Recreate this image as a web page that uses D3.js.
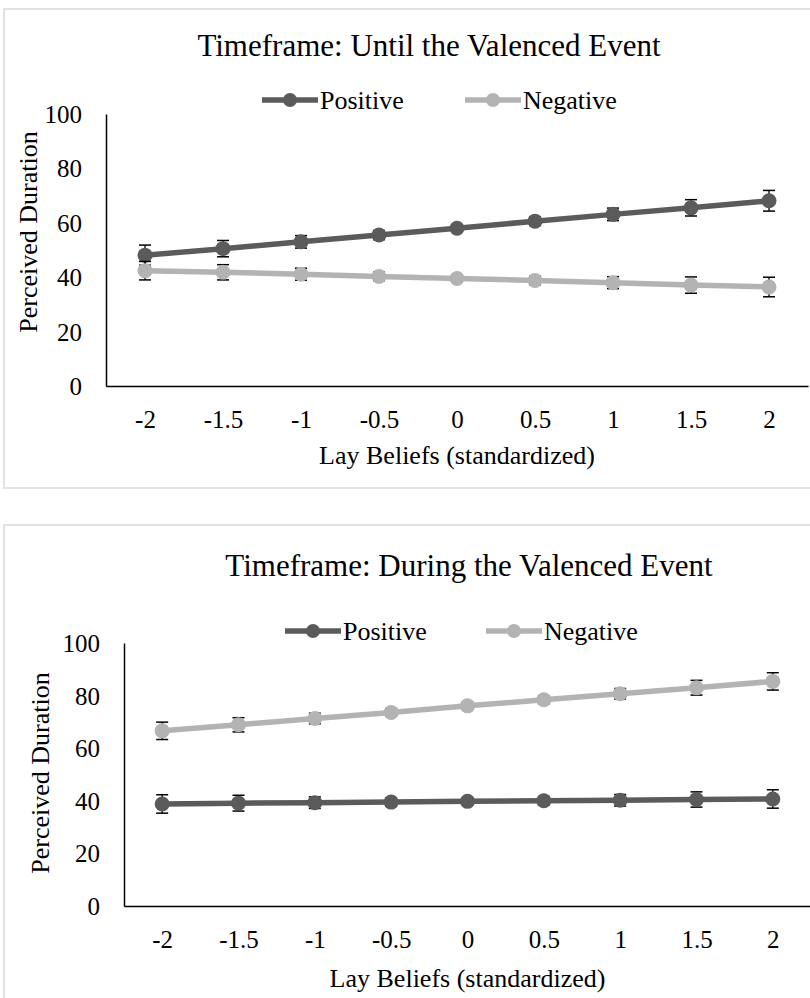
<!DOCTYPE html>
<html>
<head>
<meta charset="utf-8">
<script src="https://cdn.jsdelivr.net/npm/d3@7"></script>
<style>
  html, body { margin: 0; padding: 0; background: #fff; }
  svg { display: block; font-family: "Liberation Serif", "Times New Roman", serif; }
</style>
</head>
<body>
<div id="chart"></div>
<script>
// ── Data ──
const beliefs = ['-2', '-1.5', '-1', '-0.5', '0', '0.5', '1', '1.5', '2'];
const yTicks = [0, 20, 40, 60, 80, 100];
const seriesNames = ['Positive', 'Negative'];

const untilPositive = [48.1, 50.5, 53.0, 55.5, 58.0, 60.6, 63.1, 65.5, 68.1];
const untilPositiveErr = [3.7, 3.0, 2.3, 1.7, 1.3, 1.6, 2.3, 3.0, 3.8];
const untilNegative = [42.4, 41.8, 41.1, 40.3, 39.5, 38.8, 38.0, 37.1, 36.4];
const untilNegativeErr = [3.4, 2.8, 2.2, 1.6, 1.3, 1.6, 2.2, 3.0, 3.6];

const duringPositive = [38.8, 39.1, 39.3, 39.5, 39.8, 40.0, 40.2, 40.5, 40.7];
const duringPositiveErr = [3.5, 3.0, 2.2, 1.6, 1.3, 1.6, 2.2, 2.9, 3.5];
const duringNegative = [66.6, 68.9, 71.3, 73.6, 76.1, 78.4, 80.7, 83.0, 85.4];
const duringNegativeErr = [3.3, 2.7, 2.0, 1.5, 1.3, 1.5, 2.0, 2.8, 3.3];

// ── Style ──
const FONT = '"Liberation Serif", "Times New Roman", serif';
const colors = { Positive: '#5b5b5b', Negative: '#b3b3b3' };
const W = 810, H = 998;

const svg = d3.select('#chart').append('svg')
  .attr('width', W).attr('height', H);

function drawPanel(p) {
  const g = svg.append('g');

  // chart area border
  g.append('rect')
    .attr('x', p.box[0]).attr('y', p.box[1])
    .attr('width', p.box[2]).attr('height', p.box[3])
    .attr('fill', '#fff').attr('stroke', '#d9d9d9').attr('stroke-width', 1.5);

  const x = d3.scalePoint().domain(beliefs).range([p.left, p.right]).padding(0.5);
  const y = d3.scaleLinear().domain([0, 100]).range([p.bottom, p.top]);

  // title
  g.append('text').attr('x', p.titleX).attr('y', p.titleY)
    .attr('text-anchor', 'middle').attr('font-size', 31).attr('fill', '#000')
    .text(p.title);

  // legend
  seriesNames.forEach(function(name, i) {
    const lx = p.legendX[i];
    g.append('line').attr('x1', lx).attr('x2', lx + 56)
      .attr('y1', p.legendY).attr('y2', p.legendY)
      .attr('stroke', colors[name]).attr('stroke-width', 5.5);
    g.append('circle').attr('cx', lx + 28).attr('cy', p.legendY).attr('r', 7)
      .attr('fill', colors[name]);
    g.append('text').attr('x', lx + 58).attr('y', p.legendY + 9)
      .attr('font-size', 26).attr('fill', '#000').text(name);
  });

  // axes
  const yAxis = g.append('g').attr('transform', 'translate(' + p.left + ',0)')
    .call(d3.axisLeft(y).tickValues(yTicks).tickSize(0).tickPadding(24))
    .attr('font-family', FONT).attr('font-size', 25);
  yAxis.select('.domain').attr('stroke', '#000').attr('stroke-width', 1.5);
  yAxis.selectAll('text').attr('fill', '#000').attr('dy', '0.34em');

  const xAxis = g.append('g').attr('transform', 'translate(0,' + p.bottom + ')')
    .call(d3.axisBottom(x).tickSize(0).tickPadding(24))
    .attr('font-family', FONT).attr('font-size', 25);
  xAxis.select('.domain').attr('stroke', '#000').attr('stroke-width', 1.5);
  xAxis.selectAll('text').attr('fill', '#000');

  // axis titles
  g.append('text')
    .attr('transform', 'translate(' + p.yTitleX + ',' + p.yTitleY + ') rotate(-90)')
    .attr('text-anchor', 'middle').attr('dy', '0.34em')
    .attr('font-size', 26).attr('fill', '#000').text('Perceived Duration');
  g.append('text').attr('x', (p.left + p.right) / 2).attr('y', p.xTitleY)
    .attr('text-anchor', 'middle').attr('font-size', 26).attr('fill', '#000')
    .text('Lay Beliefs (standardized)');

  // series
  const line = d3.line().x(function(d) { return x(d.b); }).y(function(d) { return y(d.v); });
  p.series.forEach(function(s) {
    const pts = beliefs.map(function(b, i) { return { b: b, v: s.values[i], e: s.err[i] }; });
    const sg = g.append('g');

    sg.append('path').datum(pts).attr('d', line)
      .attr('fill', 'none').attr('stroke', colors[s.name]).attr('stroke-width', 5.5);

    // error bars under the markers
    const eb = sg.append('g').selectAll('g').data(pts).join('g');
    eb.append('line')
      .attr('x1', function(d) { return x(d.b); }).attr('x2', function(d) { return x(d.b); })
      .attr('y1', function(d) { return y(d.v + d.e); }).attr('y2', function(d) { return y(d.v - d.e); })
      .attr('stroke', '#000').attr('stroke-width', 1.3);
    [1, -1].forEach(function(sign) {
      eb.append('line')
        .attr('x1', function(d) { return x(d.b) - 6; }).attr('x2', function(d) { return x(d.b) + 6; })
        .attr('y1', function(d) { return y(d.v + sign * d.e); })
        .attr('y2', function(d) { return y(d.v + sign * d.e); })
        .attr('stroke', '#000').attr('stroke-width', 1.5);
    });

    sg.append('g').selectAll('circle').data(pts).join('circle')
      .attr('cx', function(d) { return x(d.b); }).attr('cy', function(d) { return y(d.v); })
      .attr('r', 7.5).attr('fill', colors[s.name]);
  });
}

drawPanel({
  box: [4, 9, 830, 479],
  left: 106, right: 808, top: 114, bottom: 386,
  title: 'Timeframe: Until the Valenced Event', titleX: 429, titleY: 56,
  legendX: [262, 465], legendY: 100,
  yTitleX: 28, yTitleY: 232, xTitleY: 464,
  series: [
    { name: 'Positive', values: untilPositive, err: untilPositiveErr },
    { name: 'Negative', values: untilNegative, err: untilNegativeErr }
  ]
});

drawPanel({
  box: [4, 525, 830, 500],
  left: 124, right: 811, top: 643, bottom: 906,
  title: 'Timeframe: During the Valenced Event', titleX: 469, titleY: 576,
  legendX: [285, 486], legendY: 631,
  yTitleX: 40, yTitleY: 773, xTitleY: 987,
  series: [
    { name: 'Positive', values: duringPositive, err: duringPositiveErr },
    { name: 'Negative', values: duringNegative, err: duringNegativeErr }
  ]
});
</script>
</body>
</html>
